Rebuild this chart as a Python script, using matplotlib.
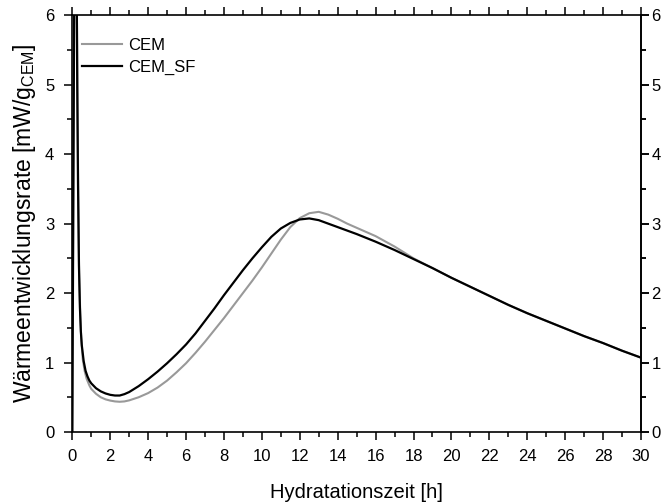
import matplotlib
matplotlib.use("Agg")
import matplotlib.pyplot as plt
from matplotlib.ticker import MultipleLocator

plt.rcParams['font.family'] = ['Liberation Sans', 'DejaVu Sans']
plt.rcParams['mathtext.fontset'] = 'custom'
plt.rcParams['mathtext.rm'] = 'Liberation Sans'

# Hydration time [h] and heat flow [mW/g_CEM]
t_cem = [0.0, 0.1, 0.15, 0.22, 0.27, 0.31, 0.36, 0.42, 0.47, 0.55, 0.65, 0.75,
         0.9, 1.0, 1.25, 1.5, 1.75, 2.0, 2.25, 2.5, 2.75, 3.0, 3.5, 4.0, 4.5,
         5.0, 5.5, 6.0, 6.5, 7.0, 7.5, 8.0, 8.5, 9.0, 9.5, 10.0, 10.5, 11.0,
         11.5, 12.0, 12.5, 13.0, 13.5, 14.0, 14.5, 15.0, 16.0, 17.0, 18.0,
         19.0, 20.0, 21.0, 22.0, 23.0, 24.0, 25.0, 26.0, 27.0, 28.0, 29.0, 30.0]
q_cem = [0.0, 7.0, 9.0, 7.0, 5.0, 3.5, 2.3, 1.7, 1.35, 1.05, 0.88, 0.77,
         0.67, 0.62, 0.55, 0.5, 0.47, 0.452, 0.44, 0.435, 0.44, 0.455, 0.5,
         0.56, 0.64, 0.74, 0.86, 0.99, 1.14, 1.3, 1.47, 1.64, 1.82, 2.0, 2.18,
         2.37, 2.57, 2.77, 2.95, 3.08, 3.15, 3.17, 3.13, 3.07, 3.0, 2.94,
         2.82, 2.67, 2.5, 2.36, 2.22, 2.09, 1.96, 1.83, 1.71, 1.6, 1.49,
         1.38, 1.28, 1.17, 1.07]

t_sf = [0.0, 0.08, 0.15, 0.22, 0.26, 0.3, 0.35, 0.4, 0.45, 0.5, 0.6, 0.7, 0.8,
        0.9, 1.0, 1.25, 1.5, 1.75, 2.0, 2.25, 2.5, 2.75, 3.0, 3.5, 4.0, 4.5,
        5.0, 5.5, 6.0, 6.5, 7.0, 7.5, 8.0, 8.5, 9.0, 9.5, 10.0, 10.5, 11.0,
        11.5, 12.0, 12.5, 13.0, 13.5, 14.0, 15.0, 16.0, 17.0, 18.0, 19.0,
        20.0, 21.0, 22.0, 23.0, 24.0, 25.0, 26.0, 27.0, 28.0, 29.0, 30.0]
q_sf = [0.0, 5.0, 9.0, 7.0, 5.0, 3.6, 2.4, 1.8, 1.45, 1.25, 1.02, 0.88, 0.8,
        0.74, 0.7, 0.63, 0.585, 0.555, 0.535, 0.525, 0.525, 0.545, 0.575,
        0.66, 0.76, 0.87, 0.99, 1.12, 1.26, 1.42, 1.6, 1.78, 1.97, 2.15, 2.33,
        2.5, 2.66, 2.81, 2.93, 3.01, 3.06, 3.075, 3.05, 3.0, 2.95, 2.85,
        2.74, 2.62, 2.49, 2.36, 2.22, 2.09, 1.96, 1.83, 1.71, 1.6, 1.49,
        1.38, 1.28, 1.17, 1.07]

x_ticks = list(range(0, 31, 2))
y_ticks = list(range(0, 7))

fig = plt.figure(figsize=(6.64, 5.03), dpi=100)
ax = fig.add_axes([0.1089, 0.1412, 0.8565, 0.8284])

ax.plot(t_cem, q_cem, color='#999999', lw=1.5, label='CEM')
ax.plot(t_sf, q_sf, color='black', lw=1.6, label='CEM_SF')

ax.set_xlim(0, 30)
ax.set_ylim(0, 6)
ax.set_xticks(x_ticks)
ax.set_yticks(y_ticks)
ax.xaxis.set_minor_locator(MultipleLocator(1))
ax.yaxis.set_minor_locator(MultipleLocator(0.5))

ax.tick_params(which='both', direction='out', top=True, right=True,
               labelright=False, labeltop=False, width=1.1, labelsize=12)
ax.tick_params(which='major', length=6)
ax.tick_params(which='minor', length=3.3)
ax.tick_params(axis='x', pad=6)
ax.tick_params(axis='y', pad=7)
for s in ax.spines.values():
    s.set_linewidth(1.2)

# right-hand scale repeats the left one with tighter label spacing
rax = ax.secondary_yaxis('right')
rax.set_yticks(y_ticks)
rax.yaxis.set_minor_locator(MultipleLocator(0.5))
rax.tick_params(which='both', direction='out', width=1.1, labelsize=12, pad=1.5)
rax.tick_params(which='major', length=6)
rax.tick_params(which='minor', length=3.3)
rax.spines['right'].set_linewidth(1.2)

ax.set_xlabel('Hydratationszeit [h]', fontsize=14.5, labelpad=14)
ax.set_ylabel('Wärmeentwicklungsrate [mW/g$_{\\mathrm{CEM}}$]', fontsize=16.5,
              labelpad=5)

ax.legend(loc='upper left', frameon=False, fontsize=12, handlelength=2.4,
          handletextpad=0.35, borderaxespad=0.2, labelspacing=0.45,
          bbox_to_anchor=(0.0, 0.97))

fig.savefig('out.png', dpi=100)
